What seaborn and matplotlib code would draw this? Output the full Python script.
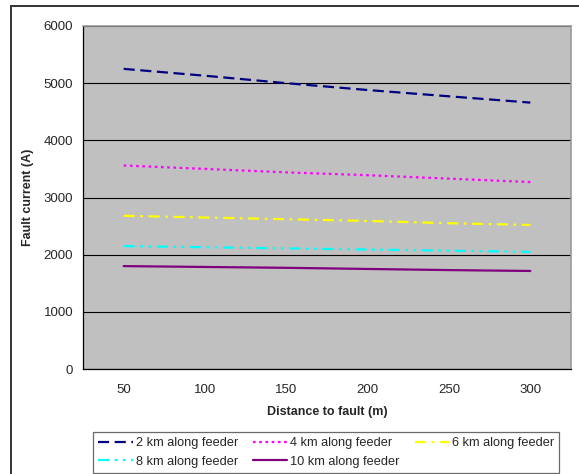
import pandas as pd
import matplotlib
matplotlib.use("Agg")
import matplotlib.pyplot as plt
import seaborn as sns
from matplotlib.patches import Rectangle

# =====================================
# DATA
# =====================================

distance = [50, 100, 150, 200, 250, 300]

km2 = [5250, 5130, 5000, 4880, 4770, 4660]
km4 = [3560, 3500, 3440, 3390, 3330, 3270]
km6 = [2680, 2650, 2620, 2590, 2550, 2520]
km8 = [2150, 2130, 2110, 2090, 2070, 2050]
km10 = [1800, 1785, 1770, 1750, 1730, 1715]

series_names = [
    "2 km along feeder",
    "4 km along feeder",
    "6 km along feeder",
    "8 km along feeder",
    "10 km along feeder",
]
series_values = [km2, km4, km6, km8, km10]

y_ticks = [0, 1000, 2000, 3000, 4000, 5000, 6000]

colors = ["#000080", "#FF00FF", "#FFFF00", "#00FFFF", "#800080"]
dashes = [(5, 2.5), (1.2, 1.6), (5, 2.5, 1.2, 2.5), (5, 2.5, 1.2, 2.5, 1.2, 2.5), ""]

# =====================================
# LONG FORM
# =====================================

rows = []
for name, vals in zip(series_names, series_values):
    for d, v in zip(distance, vals):
        rows.append({"distance": d, "current": v, "series": name})
df = pd.DataFrame(rows)

sns.set_style("white")
plt.rcParams["font.family"] = ["Liberation Sans", "DejaVu Sans"]

fig = plt.figure(figsize=(5.79, 4.74), dpi=100)
ax = fig.add_axes([83 / 579, 1 - 369 / 474, 488 / 579, 343 / 474])
ax.set_facecolor("#C0C0C0")

sns.lineplot(
    data=df, x="distance", y="current", hue="series", style="series",
    palette=dict(zip(series_names, colors)),
    dashes=dict(zip(series_names, dashes)),
    linewidth=1.6, ax=ax, legend=False,
)

ax.set_xlim(25, 325)
ax.set_ylim(0, 6000)
ax.set_yticks(y_ticks)
ax.set_xticks(distance)
ax.set_xticks([25, 75, 125, 175, 225, 275, 325], minor=True)
ax.tick_params(axis="x", which="major", length=0, pad=11, labelsize=9.5)
ax.tick_params(axis="x", which="minor", length=4, width=0.8, color="black", direction="out")
ax.tick_params(axis="y", length=4, width=0.8, color="black", direction="out", labelsize=9.5, pad=3)
ax.yaxis.grid(True, color="black", linewidth=0.8)
ax.set_axisbelow(True)

for side in ["left", "bottom"]:
    ax.spines[side].set_color("black")
    ax.spines[side].set_linewidth(0.9)
for side in ["top", "right"]:
    ax.spines[side].set_color("#999999")
    ax.spines[side].set_linewidth(1.2)

ax.set_xlabel("Distance to fault (m)", fontsize=9, fontweight="bold", labelpad=7)
ax.set_ylabel("Fault current (A)", fontsize=9, fontweight="bold", labelpad=7)

# legend, filled row by row like the original (2,4,6 / 8,10)
handles = [
    plt.Line2D([], [], color=c, linewidth=1.6, dashes=d if d else (None, None))
    for c, d in zip(colors, dashes)
]
order = [0, 3, 1, 4, 2]
leg = fig.legend(
    [handles[i] for i in order], [series_names[i] for i in order],
    loc="upper left", bbox_to_anchor=(93 / 579, 1 - 432 / 474),
    ncol=3, fontsize=9.2, frameon=True, fancybox=False, handlelength=2.7,
    handletextpad=0.25, columnspacing=1.15, borderpad=0.4, labelspacing=0.5,
    borderaxespad=0,
)
leg.get_frame().set_edgecolor("#444444")
leg.get_frame().set_linewidth(0.9)

# outer chart border
fig.patches.append(Rectangle(
    (11 / 579, -0.1), 1.2, 1 - 6 / 474 + 0.1, transform=fig.transFigure,
    fill=False, edgecolor="#333333", linewidth=1.4,
))

fig.savefig("out.png", dpi=100)
